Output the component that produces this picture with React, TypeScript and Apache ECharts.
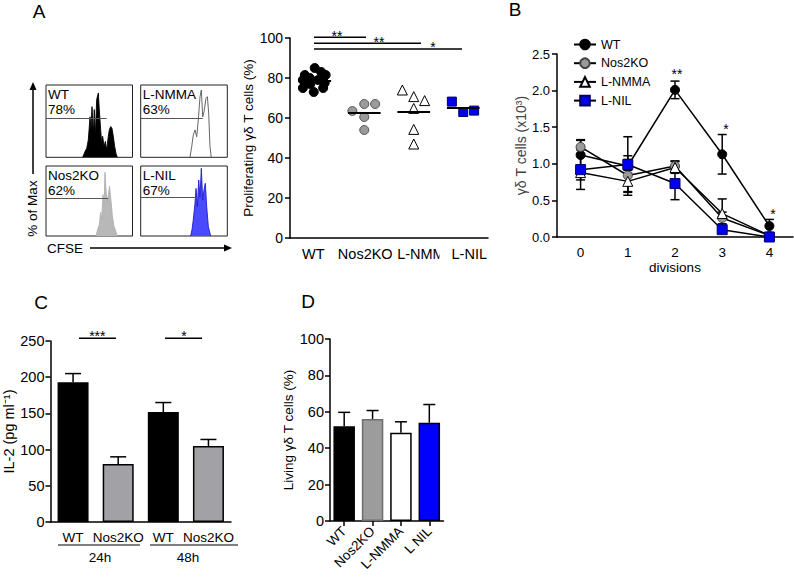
import React, { useEffect, useRef } from 'react';
import * as echarts from 'echarts';

const FONT = 'Liberation Sans, Arial, Helvetica, sans-serif';

// ---------- Panel A: CFSE histograms (x: % of box width, y: % of box height) ----------
const histNames = ['WT', 'L-NMMA', 'Nos2KO', 'L-NIL'];
const histPercents = ['78%', '63%', '62%', '67%'];
const histWT = [[42.4, 0], [45.1, 8], [47.1, 12.5], [48.9, 24], [50.9, 56], [52, 38], [53.2, 70], [54.7, 33], [55.8, 66], [57, 29], [58.6, 80], [60.5, 89], [61.6, 66], [63.2, 38], [64.4, 19], [65.5, 29], [67.1, 15], [68.6, 22], [70.2, 10], [71.7, 26], [73.2, 38], [74.8, 42.5], [76.3, 40], [77.8, 29], [79.4, 15], [80.9, 5.5], [82.4, 0]];
const histNMMA = [[56.9, 0], [58.9, 14.7], [60.7, 30.8], [62.7, 37.8], [64.7, 28.5], [66.5, 51.6], [68.5, 83.8], [70, 93], [71.6, 56], [73.1, 63], [75.4, 81.6], [77, 83.8], [78.5, 61], [80, 14.7], [81.5, 0]];
const histNos = [[57.8, 0], [60.1, 11], [61.6, 16], [63.2, 34], [64.4, 23], [65.9, 59], [67.1, 44], [68.2, 91], [69.4, 66], [70.5, 51], [72, 57], [73.4, 71], [75.1, 51], [76.6, 30], [78.6, 14], [81.7, 3], [82.7, 0]];
const histNIL = [[57.7, 0], [59.2, 8.6], [60.7, 22.9], [62.7, 46.7], [63.9, 68], [65.4, 41.9], [67, 80], [68.5, 56], [70, 96.7], [71.6, 51.4], [73.1, 65.7], [74.6, 75.3], [76.2, 41.9], [78.1, 13.3], [80.8, 0]];
const histGateLevel = [54, 54, 54, 54.7];
const histGateEnd = [70.2, 71.6, 72, 72.3];

// ---------- Panel A: proliferating gd T cells (%) ----------
const groupsA = ['WT', 'Nos2KO', 'L-NMMA', 'L-NIL'];
const prolifWT = [85, 83, 81.5, 81.5, 80, 79, 79, 77.5, 77, 75, 75, 73];
const jitterWT = [0, 0.13, 0.22, -0.2, -0.1, -0.24, 0.07, 0.2, -0.09, -0.24, 0.17, -0.02];
const prolifNos = [63.5, 67, 67, 60.5, 54];
const jitterNos = [-0.24, 0, 0.22, 0, 0];
const prolifNMMA = [74, 70.7, 68.7, 64.8, 54.3, 47];
const jitterNMMA = [-0.23, 0, 0.22, 0, 0, 0];
const prolifNIL = [68.2, 63, 63.7];
const jitterNIL = [-0.23, 0, 0.22];

// ---------- Panel B: gd T cells (x10^3) per division ----------
const divisions = ['0', '1', '2', '3', '4'];
const cellsWT = [1.12, 0.97, 2.01, 1.13, 0.15];
const errWT = [0.2, 0.4, 0.12, 0.27, 0.09];
const cellsNos = [1.23, 0.84, 0.97, 0.26, 0.02];
const errNos = [0.1, 0.22, 0.07, 0.08, 0.03];
const cellsNMMA = [0.88, 0.76, 0.95, 0.32, 0.02];
const errNMMA = [0.1, 0.15, 0.08, 0.2, 0.03];
const cellsNIL = [0.92, 0.99, 0.73, 0.1, 0.0];
const errNIL = [0.27, 0.12, 0.22, 0.03, 0.01];

// ---------- Panel C: IL-2 ----------
const il2Labels = ['WT', 'Nos2KO', 'WT', 'Nos2KO'];
const il2Values = [193, 80, 152, 105];
const il2Err = [12, 10, 13, 9];
const timepoints = ['24h', '48h'];

// ---------- Panel D: living gd T cells ----------
const groupsD = ['WT', 'Nos2KO', 'L-NMMA', 'L NIL'];
const living = [52, 56, 48.5, 54];
const livingErr = [7.7, 4.7, 6, 10];

// ---------- styles ----------
const histGrids = [
  { left: 46, top: 85, width: 86.5, height: 72.3 },
  { left: 140.7, top: 85, width: 86.6, height: 72.3 },
  { left: 46, top: 166, width: 86.5, height: 70 },
  { left: 140.7, top: 166, width: 86.6, height: 70 },
];
const histStyles = [
  { line: '#000', fill: '#000' },
  { line: '#555', fill: '' },
  { line: '#b0b0b0', fill: '#b8b8b8' },
  { line: '#1c1cd0', fill: '#4a4aff' },
];
const axisLine = { show: true, onZero: false, lineStyle: { color: '#000', width: 1.5 } };
const axisTick = { show: true, inside: false, length: 5, lineStyle: { color: '#000', width: 1.5 } };
const noSplit = { show: false };

const errRender = (cap: number, both: boolean) => (params: any, api: any) => {
  const x = api.value(0);
  const y = api.value(1);
  const e = api.value(2);
  const top = api.coord([x, y + e]);
  const bot = api.coord([x, both ? y - e : y]);
  const st = { stroke: '#000', lineWidth: 1.5 };
  const children: any[] = [
    { type: 'line', shape: { x1: top[0], y1: top[1], x2: bot[0], y2: bot[1] }, style: st },
    { type: 'line', shape: { x1: top[0] - cap, y1: top[1], x2: top[0] + cap, y2: top[1] }, style: st },
  ];
  if (both) children.push({ type: 'line', shape: { x1: bot[0] - cap, y1: bot[1], x2: bot[0] + cap, y2: bot[1] }, style: st });
  return { type: 'group', children };
};

const txt = (text: string, x: number, y: number, size: number, align = 'center', vAlign = 'middle', extra: any = {}) => ({
  type: 'text', x, y, silent: true, ...extra,
  style: { text, fontSize: size, fontFamily: FONT, fill: '#000', align, verticalAlign: vAlign, ...(extra.style || {}) },
});
const ln = (x1: number, y1: number, x2: number, y2: number, w = 1.5) => ({
  type: 'line', silent: true, shape: { x1, y1, x2, y2 }, style: { stroke: '#000', lineWidth: w },
});

const mean = (a: number[]) => a.reduce((s, v) => s + v, 0) / a.length;

function buildOption(): any {
  const grids: any[] = histGrids.map((g) => ({
    ...g, show: true, borderColor: '#222', borderWidth: 1, backgroundColor: '#fff', containLabel: false, outerBoundsMode: 'none',
  }));
  grids.push({ left: 290, top: 38, width: 198, height: 200, containLabel: false, outerBoundsMode: 'none' }); // 4 A
  grids.push({ left: 557, top: 54, width: 236, height: 183, containLabel: false, outerBoundsMode: 'none' }); // 5 B
  grids.push({ left: 50.5, top: 341, width: 180.5, height: 181, containLabel: false, outerBoundsMode: 'none' }); // 6 C
  grids.push({ left: 330, top: 339, width: 113.5, height: 182, containLabel: false, outerBoundsMode: 'none' }); // 7 D

  const xAxis: any[] = histGrids.map((_, i) => ({ gridIndex: i, type: 'value', min: 0, max: 100, show: false }));
  const yAxis: any[] = histGrids.map((_, i) => ({ gridIndex: i, type: 'value', min: 0, max: 100, show: false }));

  const lbl = (size: number, margin: number, extra: any = {}) => ({ fontSize: size, color: '#000', fontFamily: FONT, margin, ...extra });

  // x4: A category, x5: A hidden value
  const aRich = ['a0', 'a1', 'a2', 'a3'];
  xAxis.push({
    gridIndex: 4, type: 'category', data: groupsA, boundaryGap: true, axisLine, axisTick: { show: false }, splitLine: noSplit,
    axisLabel: lbl(14.5, 8, {
      interval: 0,
      formatter: (v: string, i: number) => `{${aRich[i]}|${v}}`,
      rich: {
        a0: { fontSize: 14.5, fontFamily: FONT, color: '#000', padding: [0, 3, 0, 0] },
        a1: { fontSize: 14.5, fontFamily: FONT, color: '#000', padding: [0, 0, 0, 2] },
        a2: { fontSize: 14.5, fontFamily: FONT, color: '#000', padding: [0, 0, 0, 24] },
        a3: { fontSize: 14.5, fontFamily: FONT, color: '#000', padding: [0, 0, 0, 12], backgroundColor: '#fff' },
      },
    }),
  });
  xAxis.push({ gridIndex: 4, type: 'value', min: -0.5, max: 3.5, show: false });
  // x6: B
  xAxis.push({ gridIndex: 5, type: 'category', data: divisions, boundaryGap: true, axisLine, axisTick: { show: false }, axisLabel: lbl(13.5, 8), splitLine: noSplit,
    name: 'divisions', nameLocation: 'middle', nameGap: 23, nameTextStyle: { fontSize: 13.5, color: '#000', fontFamily: FONT } });
  // x7: C
  xAxis.push({ gridIndex: 6, type: 'category', data: il2Labels.map((_, i) => String(i)), boundaryGap: true, axisLine, axisTick: { show: false },
    axisLabel: lbl(13.5, 8, { interval: 0, formatter: (_v: string, i: number) => il2Labels[i] }), splitLine: noSplit });
  // x8: D
  xAxis.push({ gridIndex: 7, type: 'category', data: groupsD, boundaryGap: true, axisLine, axisTick: { ...axisTick, alignWithLabel: true },
    axisLabel: lbl(13.5, 8, { interval: 0, rotate: 45 }), splitLine: noSplit });

  const nameStyle = (size: number) => ({ fontSize: size, color: '#000', fontFamily: FONT });
  yAxis.push({ gridIndex: 4, type: 'value', min: 0, max: 100, interval: 20, axisLine, axisTick, axisLabel: lbl(14, 7), splitLine: noSplit,
    name: 'Proliferating γδ T cells (%)', nameLocation: 'middle', nameGap: 29, nameTextStyle: nameStyle(13.5) });
  yAxis.push({ gridIndex: 5, type: 'value', min: 0, max: 2.5, interval: 0.5, axisLine, axisTick, axisLabel: lbl(13, 7, { formatter: (v: number) => v.toFixed(1) }), splitLine: noSplit,
    name: 'γδ T cells (x10³)', nameLocation: 'middle', nameGap: 28, nameTextStyle: { ...nameStyle(14), color: '#444' } });
  yAxis.push({ gridIndex: 6, type: 'value', min: 0, max: 250, interval: 50, axisLine, axisTick, axisLabel: lbl(14.5, 6), splitLine: noSplit,
    name: 'IL-2 (pg ml⁻¹)', nameLocation: 'middle', nameGap: 30, nameTextStyle: nameStyle(14.5) });
  yAxis.push({ gridIndex: 7, type: 'value', min: 0, max: 100, interval: 20, axisLine, axisTick, axisLabel: lbl(14.5, 6), splitLine: noSplit,
    name: 'Living γδ T cells (%)', nameLocation: 'middle', nameGap: 32, nameTextStyle: nameStyle(13.5) });

  const series: any[] = [];
  // histograms
  [histWT, histNMMA, histNos, histNIL].forEach((d, i) => {
    const s = histStyles[i];
    series.push({
      type: 'line', name: 'hist-' + histNames[i], xAxisIndex: i, yAxisIndex: i, data: d, symbol: 'none', silent: true,
      lineStyle: { color: s.line, width: 0.9 },
      areaStyle: s.fill ? { color: s.fill, opacity: 1 } : undefined,
      markLine: {
        silent: true, symbol: ['none', 'none'], label: { show: false },
        lineStyle: { color: '#555', width: 1, type: 'solid' },
        data: [[{ coord: [0, histGateLevel[i]] }, { coord: [histGateEnd[i], histGateLevel[i]] }]],
      },
    });
  });

  // A scatter
  const scatterDefs = [
    { vals: prolifWT, jit: jitterWT, symbol: 'circle', size: 9, color: '#000', border: '#000' },
    { vals: prolifNos, jit: jitterNos, symbol: 'circle', size: 9, color: '#9a9a9a', border: '#555' },
    { vals: prolifNMMA, jit: jitterNMMA, symbol: 'triangle', size: 10, color: '#fff', border: '#000' },
    { vals: prolifNIL, jit: jitterNIL, symbol: 'rect', size: 9, color: '#0000ee', border: '#000066' },
  ];
  scatterDefs.forEach((d, i) => {
    const m = mean(d.vals);
    series.push({
      type: 'scatter', name: 'A-' + groupsA[i], xAxisIndex: 5, yAxisIndex: 4,
      data: d.vals.map((v, k) => [i + d.jit[k], v]),
      symbol: d.symbol, symbolSize: d.size,
      itemStyle: { color: d.color, borderColor: d.border, borderWidth: 1, opacity: 1 },
      markLine: {
        silent: true, symbol: ['none', 'none'], label: { show: false },
        lineStyle: { color: '#000', width: 2, type: 'solid' },
        data: [[{ coord: [i - 0.33, m] }, { coord: [i + 0.33, m] }]],
      },
    });
  });

  // B lines
  const lineDefs = [
    { name: 'WT', vals: cellsWT, err: errWT, symbol: 'circle', size: 9, color: '#000', border: '#000' },
    { name: 'Nos2KO', vals: cellsNos, err: errNos, symbol: 'circle', size: 9, color: '#9a9a9a', border: '#444' },
    { name: 'L-NMMA', vals: cellsNMMA, err: errNMMA, symbol: 'triangle', size: 10, color: '#fff', border: '#000' },
    { name: 'L-NIL', vals: cellsNIL, err: errNIL, symbol: 'rect', size: 10, color: '#0000ee', border: '#000066' },
  ];
  lineDefs.forEach((d) => {
    series.push({
      type: 'custom', name: 'err-' + d.name, xAxisIndex: 6, yAxisIndex: 5, z: 1, silent: true,
      renderItem: errRender(4.5, true), encode: { x: 0, y: 1 },
      data: d.vals.map((v, k) => [k, v, d.err[k]]),
    });
  });
  lineDefs.forEach((d) => {
    series.push({
      type: 'line', name: d.name, xAxisIndex: 6, yAxisIndex: 5, z: 3, data: d.vals,
      symbol: d.symbol, symbolSize: d.size, showAllSymbol: true,
      lineStyle: { color: '#000', width: 1.5 },
      itemStyle: { color: d.color, borderColor: d.border, borderWidth: 1 },
    });
  });

  // C bars
  series.push({
    type: 'bar', name: 'IL-2', xAxisIndex: 7, yAxisIndex: 6, barWidth: 31,
    data: il2Values.map((v, i) => ({ value: v, itemStyle: { color: i % 2 ? '#a2a2a6' : '#000', borderColor: '#000', borderWidth: 1.5 } })),
  });
  series.push({
    type: 'custom', name: 'err-IL-2', xAxisIndex: 7, yAxisIndex: 6, z: 3, silent: true,
    renderItem: errRender(8, false), encode: { x: 0, y: 1 },
    data: il2Values.map((v, i) => [i, v, il2Err[i]]),
  });

  // D bars
  const dFill = ['#000', '#9c9c9c', '#fff', '#0000ff'];
  const dBorder = ['#000', '#6e6e6e', '#000', '#000'];
  series.push({
    type: 'bar', name: 'Living', xAxisIndex: 8, yAxisIndex: 7, barWidth: 21.5,
    data: living.map((v, i) => ({ value: v, itemStyle: { color: dFill[i], borderColor: dBorder[i], borderWidth: 1.5 } })),
  });
  series.push({
    type: 'custom', name: 'err-Living', xAxisIndex: 8, yAxisIndex: 7, z: 3, silent: true,
    renderItem: errRender(6, false), encode: { x: 0, y: 1 },
    data: living.map((v, i) => [i, v, livingErr[i]]),
  });

  // graphics (annotations)
  const g: any[] = [];
  g.push(txt('A', 39, 11, 19));
  g.push(txt('B', 515, 9, 19));
  g.push(txt('C', 41, 302, 19));
  g.push(txt('D', 308, 301, 19));
  // histogram labels
  histGrids.forEach((gr, i) => {
    g.push(txt(histNames[i] + '\n' + histPercents[i], gr.left + 2, gr.top + 2, 13.5, 'left', 'top', { style: { lineHeight: 15 } }));
  });
  // % of Max arrow
  g.push(ln(33, 174, 33, 88, 1.5));
  g.push({ type: 'polygon', silent: true, shape: { points: [[29.5, 90], [36.5, 90], [33, 82]] }, style: { fill: '#000' } });
  g.push(txt('% of Max', 32, 208.5, 13.5, 'center', 'middle', { rotation: Math.PI / 2 }));
  // CFSE arrow
  g.push(txt('CFSE', 47, 248, 13.5, 'left', 'middle'));
  g.push(ln(90, 248, 225, 248, 1.5));
  g.push({ type: 'polygon', silent: true, shape: { points: [[224, 244.5], [224, 251.5], [232, 248]] }, style: { fill: '#000' } });
  // A significance
  g.push(ln(314, 37.3, 366, 37.3));
  g.push(ln(314, 43.3, 421, 43.3));
  g.push(ln(314, 49, 462, 49));
  g.push(txt('**', 337, 36, 14));
  g.push(txt('**', 379, 42, 14));
  g.push(txt('*', 433, 47, 14));
  // B significance
  g.push(txt('**', 677, 74, 14));
  g.push(txt('*', 726, 129, 14));
  g.push(txt('*', 773, 214, 14));
  // C significance
  g.push(ln(79, 338.3, 116, 338.3));
  g.push(ln(165, 338.3, 202, 338.3));
  g.push(txt('***', 97.3, 336, 14));
  g.push(txt('*', 184, 336, 14));
  // C time groups
  g.push(ln(58, 545, 140, 545, 1.2));
  g.push(ln(150, 545, 238, 545, 1.2));
  g.push(txt(timepoints[0], 100, 557, 13.5));
  g.push(txt(timepoints[1], 188, 557, 13.5));

  return {
    animation: false,
    backgroundColor: '#fff',
    textStyle: { fontFamily: FONT },
    grid: grids,
    xAxis,
    yAxis,
    legend: {
      show: true, orient: 'vertical', left: 568, top: 33, padding: 5,
      itemWidth: 22, itemHeight: 12, itemGap: 5.7,
      textStyle: { fontSize: 12.5, color: '#000', fontFamily: FONT },
      data: ['WT', 'Nos2KO', 'L-NMMA', 'L-NIL'],
      selectedMode: false,
    },
    series,
    graphic: { elements: g },
  };
}

export default function App() {
  const ref = useRef<HTMLDivElement>(null);
  useEffect(() => {
    if (!ref.current) return;
    const chart = echarts.init(ref.current, null, { renderer: 'svg' });
    chart.setOption(buildOption());
    return () => chart.dispose();
  }, []);
  return (
    <div
      ref={ref}
      style={{ position: 'fixed', left: 0, top: 0, width: 794, height: 581, background: '#fff' }}
    />
  );
}
